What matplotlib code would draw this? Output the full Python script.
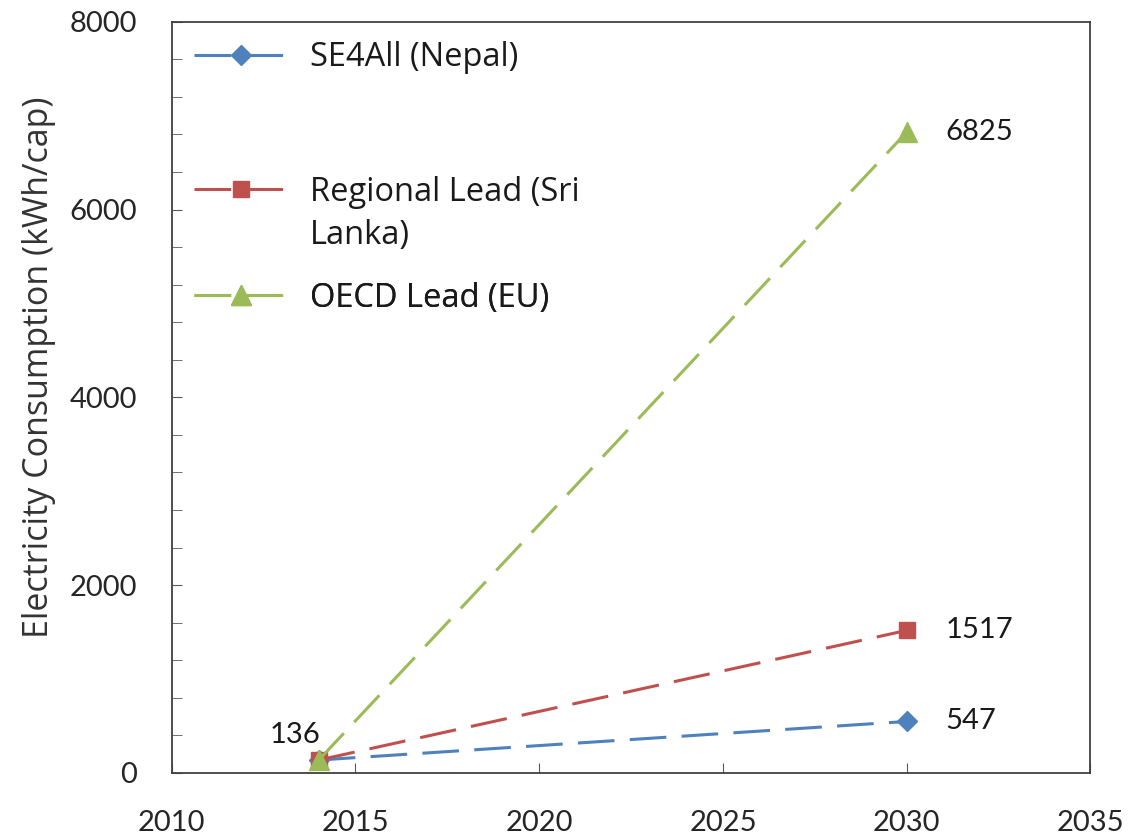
import matplotlib
matplotlib.use('Agg')
import matplotlib.pyplot as plt
from matplotlib.lines import Line2D
from matplotlib.ticker import MultipleLocator

years = [2014, 2030]
se4all = [136, 547]
regional = [136, 1517]
oecd = [136, 6825]

names = ['SE4All (Nepal)', 'Regional Lead (Sri', 'Lanka)', 'OECD Lead (EU)']
colors = ['#4F81BD', '#C0504D', '#9BBB59']

plt.rcParams['font.family'] = ['Lato', 'DejaVu Sans']
plt.rcParams['font.size'] = 21

fig = plt.figure(figsize=(11.3, 8.4), dpi=100)
ax = fig.add_axes([0.152, 0.08, 0.813, 0.894])

dash = (12, 5)
l1, = ax.plot(years, se4all, color=colors[0], lw=2.2, dashes=dash,
              marker='D', ms=10, zorder=3)
l2, = ax.plot(years, regional, color=colors[1], lw=2.2, dashes=dash,
              marker='s', ms=12, zorder=4)
l3, = ax.plot(years, oecd, color=colors[2], lw=2.2, dashes=dash,
              marker='^', ms=15, zorder=5)

# value labels at the ends
for v in (se4all[1], regional[1], oecd[1]):
    ax.annotate(str(v), (years[1], v), xytext=(28, 0), textcoords='offset points',
                ha='left', va='center', color='#1a1a1a')
ax.annotate(str(se4all[0]), (years[0], se4all[0]), xytext=(1, 9),
            textcoords='offset points', ha='right', va='bottom', color='#1a1a1a')

ax.set_xlim(2010, 2035)
ax.set_ylim(0, 8000)
ax.xaxis.set_major_locator(MultipleLocator(5))
ax.yaxis.set_major_locator(MultipleLocator(2000))
ax.yaxis.set_minor_locator(MultipleLocator(400))
ax.tick_params(axis='both', which='both', direction='in', colors='#595959',
               labelcolor='#262626')
ax.tick_params(axis='x', which='major', length=7, pad=27)
ax.tick_params(axis='y', which='major', length=7, pad=25)
ax.tick_params(axis='y', which='minor', length=7)
for s in ax.spines.values():
    s.set_color('#404040')
    s.set_linewidth(1.3)

ax.set_ylabel('Electricity Consumption (kWh/cap)', color='#333333',
              family=['Open Sans', 'DejaVu Sans'], fontsize=24.5)
ax.yaxis.set_label_coords(-0.126, 0.54)

blank = Line2D([], [], linestyle='none')
entries = [(l1, names[0], 0.952), (l2, names[1], 0.773),
           (blank, names[2], 0.716), (l3, names[3], 0.632)]
for h, lab, ypos in entries:
    leg = ax.legend([h], [lab], loc='center left', bbox_to_anchor=(0.024, ypos),
                    frameon=False, borderpad=0, borderaxespad=0,
                    handlelength=2.9, handletextpad=0.65, labelcolor='#1a1a1a',
                    prop={'family': ['Open Sans', 'DejaVu Sans'], 'size': 23.5})
    ax.add_artist(leg)

fig.savefig('out.png', dpi=100)
